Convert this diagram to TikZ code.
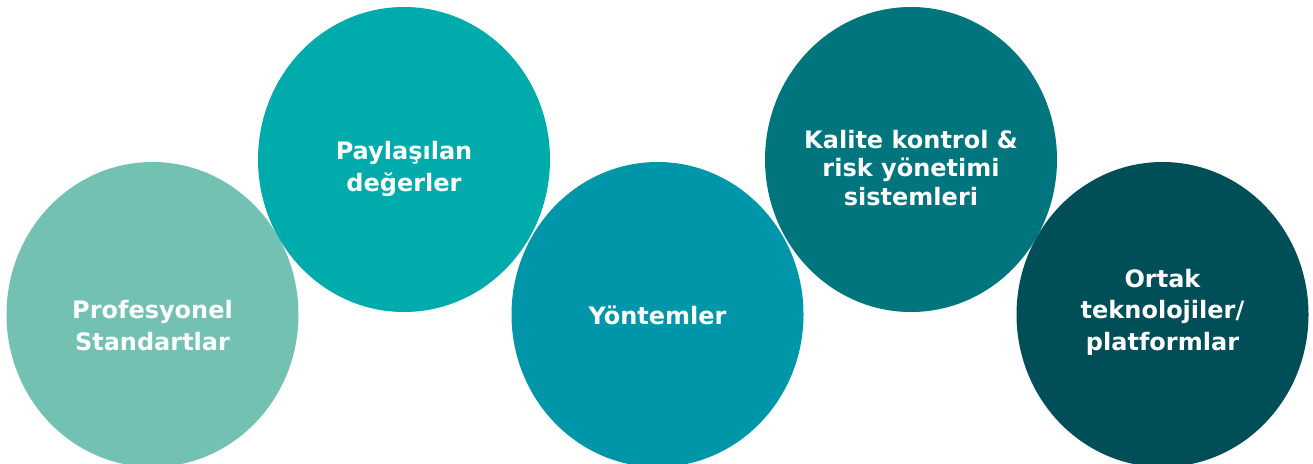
\documentclass[tikz,border=0pt]{standalone}
\usepackage{fontspec}
\setmainfont{DejaVu Sans}
\usetikzlibrary{shapes.geometric}
\definecolor{cA}{HTML}{72C1B2}
\definecolor{cB}{HTML}{00ABAB}
\definecolor{cC}{HTML}{0096A9}
\definecolor{cD}{HTML}{00757E}
\definecolor{cE}{HTML}{004F58}
\tikzset{
  disc/.style={ellipse, draw=none, minimum width=292pt, minimum height=305pt, inner sep=0pt},
  lbl/.style={text=white, align=center, inner sep=0pt, text height=18pt, text depth=5pt,
    font=\bfseries\fontsize{24}{31.5}\selectfont},
  lbltight/.style={lbl, font=\bfseries\fontsize{24}{28.75}\selectfont}
}
\begin{document}
\begin{tikzpicture}[x=1pt,y=-1pt]
\useasboundingbox (0,0) rectangle (1313,463);
\node[disc, fill=cA] (c1) at (152.5,314.5) {};
\node[disc, fill=cB] (c2) at (404,159.5) {};
\node[disc, fill=cC] (c3) at (657.5,314.5) {};
\node[disc, fill=cD] (c4) at (911,159.5) {};
\node[disc, fill=cE] (c5) at (1162.5,314.5) {};
\node[lbl] (t1) at (152.5,343.5) {Profesyonel\\Standartlar};
\node[lbl] (t2) at (404,184.5) {Paylaşılan\\değerler};
\node[lbl] (t3) at (657.5,317.5) {Yöntemler};
\node[lbltight] (t4) at (911,199) {Kalite kontrol \&\\risk yönetimi\\sistemleri};
\node[lbl] (t5) at (1162.5,343.5) {Ortak\\teknolojiler/\\platformlar};
\end{tikzpicture}
\end{document}
